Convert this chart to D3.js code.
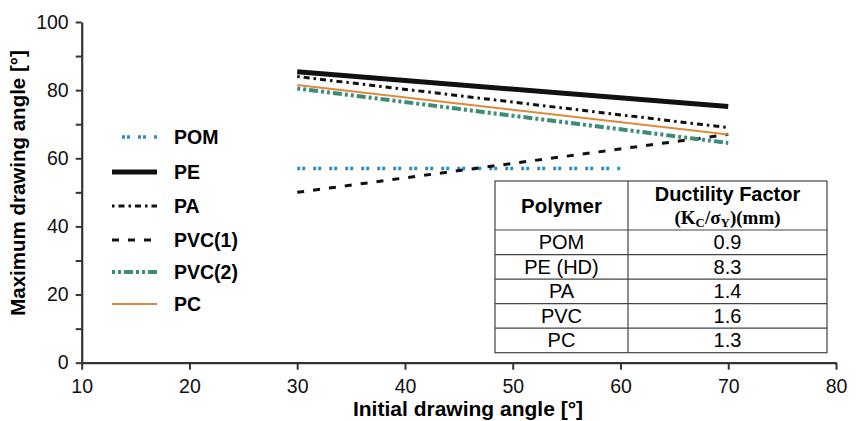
<!DOCTYPE html>
<html>
<head>
<meta charset="utf-8">
<script src="https://cdn.jsdelivr.net/npm/d3@7/dist/d3.min.js"></script>
<style>
  body { margin: 0; background: #fff; }
  text { font-family: "Liberation Sans", Arial, sans-serif; }
</style>
</head>
<body>
<svg id="chart" width="858" height="421"></svg>
<script>
// * series data (initial angle -> maximum angle)
const seriesNames = ["POM", "PE", "PA", "PVC(1)", "PVC(2)", "PC"];
const pom = [[30, 57], [60, 57]];
const pe = [[30, 85.4], [70, 75.2]];
const pa = [[30, 84], [70, 69]];
const pvc1 = [[30, 50], [70, 67]];
const pvc2 = [[30, 80.5], [70, 64.5]];
const pc = [[30, 81.5], [70, 67]];

// * table data
const tablePolymers = ["POM", "PE (HD)", "PA", "PVC", "PC"];
const tableFactors = ["0.9", "8.3", "1.4", "1.6", "1.3"];

const xTicks = [10, 20, 30, 40, 50, 60, 70, 80];
const yTicks = [0, 10, 20, 30, 40, 50, 60, 70, 80, 90, 100];

const styles = {
  "POM": { color: "#2b8fcc", width: 3.5, dash: "3,2,3,8" },
  "PE": { color: "#111", width: 5, dash: null },
  "PA": { color: "#111", width: 3, dash: "2.5,4,6,4" },
  "PVC(1)": { color: "#111", width: 3, dash: "7,9" },
  "PVC(2)": { color: "#3a8d78", width: 4, dash: "3,3,3,3,9,3" },
  "PC": { color: "#e0893a", width: 2, dash: null },
};
const seriesData = [pom, pe, pa, pvc1, pvc2, pc];

const svg = d3.select("#chart");
const xScale = d3.scaleLinear().domain([10, 80]).range([81.7, 836]);
const yScale = d3.scaleLinear().domain([0, 100]).range([362.7, 22]);

// * axes
const xAxis = svg.append("g").attr("transform", `translate(0,${yScale(0)})`)
  .call(d3.axisBottom(xScale).tickValues(xTicks).tickSize(7).tickPadding(9).tickSizeOuter(0));
const yAxis = svg.append("g").attr("transform", `translate(${xScale(10)},0)`)
  .call(d3.axisLeft(yScale).tickValues(yTicks).tickSize(6).tickPadding(7).tickSizeOuter(0)
    .tickFormat((d) => (d % 20 === 0 ? d : "")));
[xAxis, yAxis].forEach((ax) => {
  ax.select(".domain").attr("stroke", "#333").attr("stroke-width", 2.2);
  ax.selectAll(".tick line").attr("stroke", "#333").attr("stroke-width", 2);
  ax.selectAll(".tick text").attr("fill", "#111").style("font-size", "19.5px");
});

svg.append("text")
  .attr("x", 468).attr("y", 416)
  .attr("text-anchor", "middle")
  .style("font-size", "21px").style("font-weight", "bold")
  .text("Initial drawing angle [°]");
svg.append("text")
  .attr("transform", "translate(25,183) rotate(-90)")
  .attr("text-anchor", "middle")
  .style("font-size", "20.5px").style("font-weight", "bold")
  .text("Maximum drawing angle [°]");

// * series lines
const line = d3.line().x((d) => xScale(d[0])).y((d) => yScale(d[1]));
const plot = svg.append("g");
seriesNames.forEach((name, i) => {
  const s = styles[name];
  plot.append("path")
    .datum(seriesData[i])
    .attr("d", line)
    .attr("fill", "none")
    .attr("stroke", s.color)
    .attr("stroke-width", s.width)
    .attr("stroke-dasharray", s.dash);
});

// * legend
const legendY = [137, 172, 206, 240, 272, 304];
const legend = svg.append("g");
seriesNames.forEach((name, i) => {
  const s = styles[name];
  const y = legendY[i];
  legend.append("line")
    .attr("x1", name === "POM" ? 122 : 112).attr("x2", 157)
    .attr("y1", y).attr("y2", y)
    .attr("stroke", s.color)
    .attr("stroke-width", s.width)
    .attr("stroke-dasharray", s.dash);
  legend.append("text")
    .attr("x", 174).attr("y", y + 7)
    .style("font-size", "19.5px").style("font-weight", "bold")
    .text(name);
});

// * table
const tLeft = 495, tMid = 628, tRight = 827, tTop = 181, tHead = 230, tBottom = 352.7;
const rowH = (tBottom - tHead) / tablePolymers.length;
const table = svg.append("g");
table.append("rect")
  .attr("x", tLeft).attr("y", tTop)
  .attr("width", tRight - tLeft).attr("height", tBottom - tTop)
  .attr("fill", "#fff").attr("stroke", "#444").attr("stroke-width", 1.2);
table.append("line").attr("x1", tMid).attr("x2", tMid).attr("y1", tTop).attr("y2", tBottom)
  .attr("stroke", "#444").attr("stroke-width", 1.2);
[tHead].concat(tablePolymers.slice(1).map((_, i) => tHead + rowH * (i + 1))).forEach((y) => {
  table.append("line").attr("x1", tLeft).attr("x2", tRight).attr("y1", y).attr("y2", y)
    .attr("stroke", "#444").attr("stroke-width", 1.2);
});
table.append("text")
  .attr("x", (tLeft + tMid) / 2).attr("y", 213)
  .attr("text-anchor", "middle")
  .style("font-size", "20.5px").style("font-weight", "bold")
  .text("Polymer");
table.append("text")
  .attr("x", (tMid + tRight) / 2).attr("y", 201)
  .attr("text-anchor", "middle")
  .style("font-size", "20px").style("font-weight", "bold")
  .text("Ductility Factor");
const formula = table.append("text")
  .attr("x", (tMid + tRight) / 2).attr("y", 224)
  .attr("text-anchor", "middle")
  .style("font-size", "19px").style("font-weight", "bold")
  .style("font-family", "'Liberation Serif', 'DejaVu Serif', serif");
formula.append("tspan").text("(K");
formula.append("tspan").attr("dy", 3).style("font-size", "13px").text("C");
formula.append("tspan").attr("dy", -3).text("/σ");
formula.append("tspan").attr("dy", 3).style("font-size", "13px").text("Y");
formula.append("tspan").attr("dy", -3).text(")(mm)");

tablePolymers.forEach((p, i) => {
  const y = tHead + rowH * i + rowH / 2 + 7;
  table.append("text").attr("x", (tLeft + tMid) / 2).attr("y", y)
    .attr("text-anchor", "middle").style("font-size", "20px").text(p);
  table.append("text").attr("x", (tMid + tRight) / 2).attr("y", y)
    .attr("text-anchor", "middle").style("font-size", "20px").text(tableFactors[i]);
});
</script>
</body>
</html>
